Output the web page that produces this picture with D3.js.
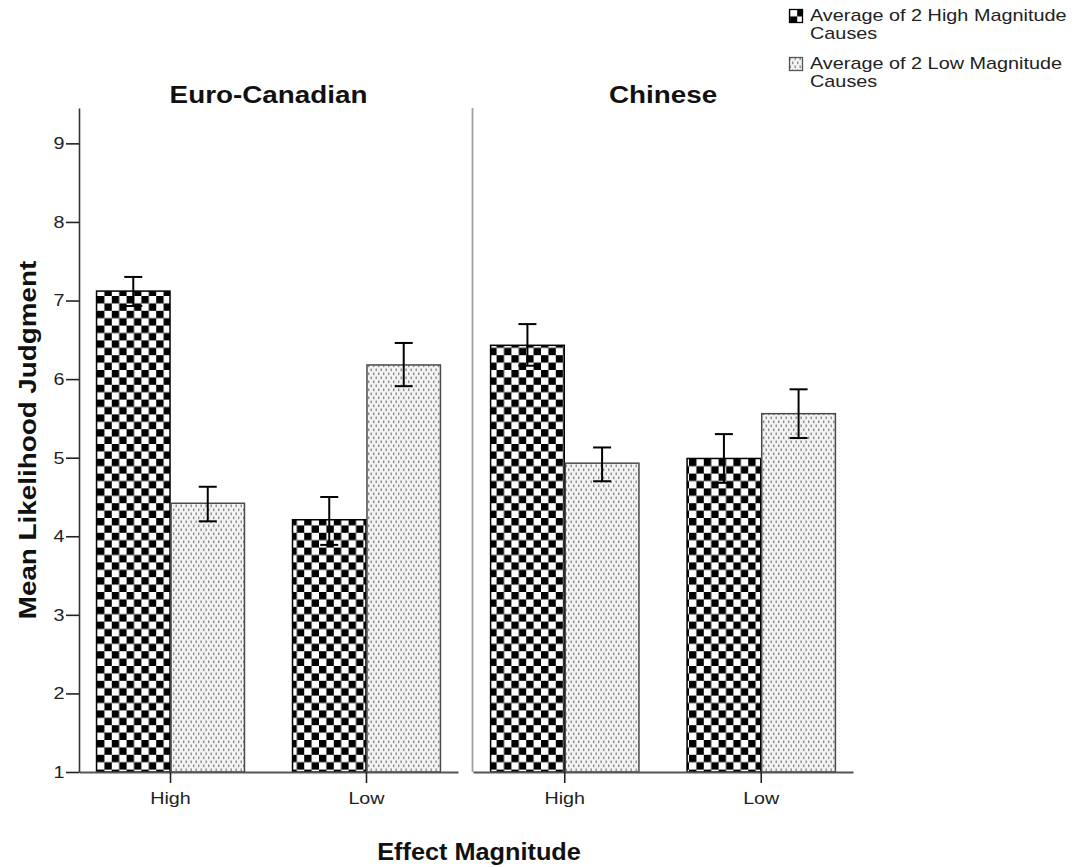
<!DOCTYPE html>
<html>
<head>
<meta charset="utf-8">
<script src="https://cdn.jsdelivr.net/npm/d3@7"></script>
<style>
  html, body { margin: 0; padding: 0; background: #fff; }
  svg { display: block; font-family: "Liberation Sans", Arial, sans-serif; }
</style>
</head>
<body>
<svg id="chart" width="1081" height="867"></svg>
<script>
// Panels, categories and series
const cultures = ["Euro-Canadian", "Chinese"];
const effectLevels = ["High", "Low"];
const seriesNames = ["Average of 2 High Magnitude Causes", "Average of 2 Low Magnitude Causes"];
const legendLines = [["Average of 2 High Magnitude", "Causes"], ["Average of 2 Low Magnitude", "Causes"]];
const yTicks = [1, 2, 3, 4, 5, 6, 7, 8, 9];

// Means, indexed [culture][effect level]
const highCauseMeans = [[7.12, 4.21], [6.43, 4.99]];
const lowCauseMeans  = [[4.42, 6.18], [4.93, 5.56]];
// Error bar limits
const highCauseLower = [[6.93, 3.89], [6.17, 4.68]];
const highCauseUpper = [[7.30, 4.50], [6.70, 5.30]];
const lowCauseLower  = [[4.19, 5.91], [4.70, 5.25]];
const lowCauseUpper  = [[4.63, 6.46], [5.13, 5.87]];

const svg = d3.select("#chart");

// Text is drawn slightly widened horizontally
const SX_SMALL = 1.16, SX_BOLD = 1.21;

// Fill patterns
const defs = svg.append("defs");
const cell = 7.4;
const checker = defs.append("pattern")
  .attr("id", "checker").attr("patternUnits", "userSpaceOnUse")
  .attr("x", 97).attr("y", 0)
  .attr("width", cell * 2).attr("height", cell * 2);
checker.append("rect").attr("width", cell * 2).attr("height", cell * 2).attr("fill", "#fff");
checker.append("rect").attr("width", cell).attr("height", cell).attr("fill", "#000");
checker.append("rect").attr("x", cell).attr("y", cell).attr("width", cell).attr("height", cell).attr("fill", "#000");

const dots = defs.append("pattern")
  .attr("id", "dots").attr("patternUnits", "userSpaceOnUse")
  .attr("width", 5).attr("height", 8);
dots.append("rect").attr("width", 5).attr("height", 8).attr("fill", "#f3f3f3");
dots.append("rect").attr("x", 0.5).attr("y", 0.5).attr("width", 1.4).attr("height", 2.6).attr("fill", "#8c8c8c");
dots.append("rect").attr("x", 3).attr("y", 4.5).attr("width", 1.4).attr("height", 2.6).attr("fill", "#8c8c8c");

const fills = ["url(#checker)", "url(#dots)"];
const strokes = ["#000", "#4a4a4a"];

// Layout
const plotTop = 108, plotBottom = 772;
const panelRanges = [[79, 458], [473, 853]];

const y = d3.scaleLinear().domain([1, 9.45]).range([plotBottom, plotTop]);

const means = [highCauseMeans, lowCauseMeans];
const lowers = [highCauseLower, lowCauseLower];
const uppers = [highCauseUpper, lowCauseUpper];

// Horizontally widened text, optionally rotated; several lines become tspans
function wideText(parent, x, yPos, lines, opts) {
  const o = Object.assign({ size: 17, bold: false, anchor: "start", sx: SX_SMALL, rotate: 0, lineHeight: 17 }, opts);
  const g = parent.append("g")
    .attr("transform", `translate(${x},${yPos}) rotate(${o.rotate}) scale(${o.sx},1)`);
  const t = g.append("text")
    .attr("text-anchor", o.anchor)
    .attr("font-size", o.size)
    .attr("font-weight", o.bold ? "bold" : "normal")
    .attr("fill", o.bold ? "#111" : "#222");
  [].concat(lines).forEach((line, k) => {
    t.append("tspan").attr("x", 0).attr("y", k * o.lineHeight).text(line);
  });
  return t;
}

cultures.forEach((culture, ci) => {
  const [x0, x1] = panelRanges[ci];
  const xGroup = d3.scaleBand().domain(effectLevels).range([x0, x1])
    .paddingInner(0.24).paddingOuter(0.087);
  const xSeries = d3.scaleBand().domain(d3.range(seriesNames.length))
    .range([0, xGroup.bandwidth()]).padding(0);

  const g = svg.append("g");

  // bars
  effectLevels.forEach((lvl, li) => {
    seriesNames.forEach((s, si) => {
      const v = means[si][ci][li];
      const bx = xGroup(lvl) + xSeries(si);
      g.append("rect")
        .attr("x", bx + 0.5).attr("y", y(v))
        .attr("width", xSeries.bandwidth() - 1)
        .attr("height", y(1) - y(v))
        .attr("fill", fills[si])
        .attr("stroke", strokes[si]).attr("stroke-width", 1.5);
    });
  });

  // error bars
  effectLevels.forEach((lvl, li) => {
    seriesNames.forEach((s, si) => {
      const cx = xGroup(lvl) + xSeries(si) + xSeries.bandwidth() / 2;
      const lo = lowers[si][ci][li], hi = uppers[si][ci][li];
      const eg = g.append("g").attr("stroke", "#000").attr("stroke-width", 2);
      eg.append("line").attr("x1", cx).attr("x2", cx).attr("y1", y(hi)).attr("y2", y(lo));
      eg.append("line").attr("x1", cx - 9).attr("x2", cx + 9).attr("y1", y(hi)).attr("y2", y(hi));
      eg.append("line").attr("x1", cx - 9).attr("x2", cx + 9).attr("y1", y(lo)).attr("y2", y(lo));
    });
  });

  // x axis
  const xAxis = g.append("g").attr("transform", `translate(0,${plotBottom})`)
    .call(d3.axisBottom(xGroup).tickSize(11).tickSizeOuter(0));
  xAxis.select(".domain").attr("stroke", "#555").attr("stroke-width", 1.8);
  xAxis.selectAll(".tick line").attr("stroke", "#222").attr("stroke-width", 1.6);
  xAxis.selectAll(".tick text")
    .attr("font-size", 17).attr("fill", "#222")
    .attr("font-family", "Liberation Sans, Arial, sans-serif")
    .attr("y", 20).attr("dy", "0.71em")
    .attr("transform", `scale(${SX_SMALL},1)`);

  // panel title
  wideText(svg, (x0 + x1) / 2, 103, culture, { size: 23, bold: true, anchor: "middle", sx: SX_BOLD });
});

// panel separator
svg.append("line")
  .attr("x1", 472.5).attr("x2", 472.5).attr("y1", plotTop).attr("y2", plotBottom)
  .attr("stroke", "#a0a0a0").attr("stroke-width", 1.8);

// y axis
const yTickLen = 13;
const yAxis = svg.append("g").attr("transform", "translate(79,0)")
  .call(d3.axisLeft(y).tickValues(yTicks).tickFormat(d3.format("d")).tickSize(yTickLen).tickSizeOuter(0));
yAxis.select(".domain").attr("stroke", "#333").attr("stroke-width", 1.6);
yAxis.selectAll(".tick line").attr("stroke", "#222").attr("stroke-width", 1.6);
yAxis.selectAll(".tick text")
  .attr("font-size", 17).attr("fill", "#222")
  .attr("font-family", "Liberation Sans, Arial, sans-serif")
  .attr("x", -(yTickLen + 1.5) / SX_SMALL)
  .attr("transform", `scale(${SX_SMALL},1)`);

// axis titles
wideText(svg, 36, (plotTop + plotBottom) / 2, "Mean Likelihood Judgment",
  { size: 23, bold: true, anchor: "middle", sx: SX_BOLD, rotate: -90 });
wideText(svg, 479, 860, "Effect Magnitude",
  { size: 23, bold: true, anchor: "middle", sx: 1.1 });

// legend
const legend = svg.append("g").attr("transform", "translate(789,9)");
seriesNames.forEach((s, si) => {
  const lg = legend.append("g").attr("transform", `translate(0,${si * 48})`);
  lg.append("rect").attr("x", 0.5).attr("y", 0.5).attr("width", 13).attr("height", 13)
    .attr("fill", fills[si]).attr("stroke", si === 0 ? "#000" : "#555").attr("stroke-width", 1.3);
  wideText(lg, 21, 12, legendLines[si], { size: 16, sx: 1.24, lineHeight: 18 });
});
</script>
</body>
</html>
